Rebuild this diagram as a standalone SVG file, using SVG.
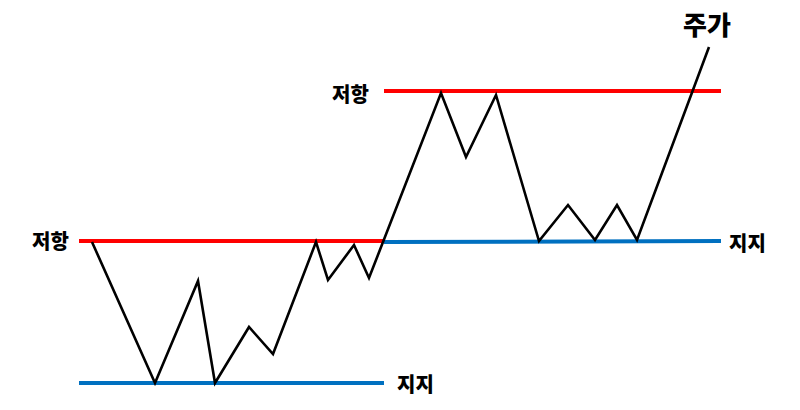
<svg xmlns="http://www.w3.org/2000/svg" width="800" height="410" viewBox="0 0 800 410">
<style>
.lbl{font-family:"Noto Sans CJK KR","Noto Sans",sans-serif;font-weight:900;font-size:20px;fill:#000;dominant-baseline:central}
.res{stroke:#ff0000;stroke-width:4;fill:none}
.sup{stroke:#0070c0;stroke-width:4;fill:none}
.price{stroke:#000;stroke-width:2.6;fill:none;stroke-linejoin:miter}
</style>
<rect width="800" height="410" fill="#fff"/>
<g id="levels">
<g id="res1"><line class="res" x1="79" y1="241" x2="384" y2="241"/><text class="lbl" x="32" y="240">저항</text></g>
<g id="sup1"><line class="sup" x1="79" y1="383" x2="384" y2="383"/><text class="lbl" x="397" y="383">지지</text></g>
<g id="res2"><line class="res" x1="384" y1="91" x2="721" y2="91"/><text class="lbl" x="332" y="93">저항</text></g>
<g id="sup2"><line class="sup" x1="384" y1="242" x2="721" y2="241"/><text class="lbl" x="729" y="242">지지</text></g>
</g>
<g id="connectors">
<polyline class="price" points="92,242 155,383 198,281 215,383 249,327 273,354 316,242 328,280 354,245 369,278 441,93 466,157 496,95 539,241 568,205 595,240 617,205 637,240 709,47"/>
</g>
<g id="label-price"><text class="lbl" x="683" y="23" style="font-size:26px">주가</text></g>
</svg>
